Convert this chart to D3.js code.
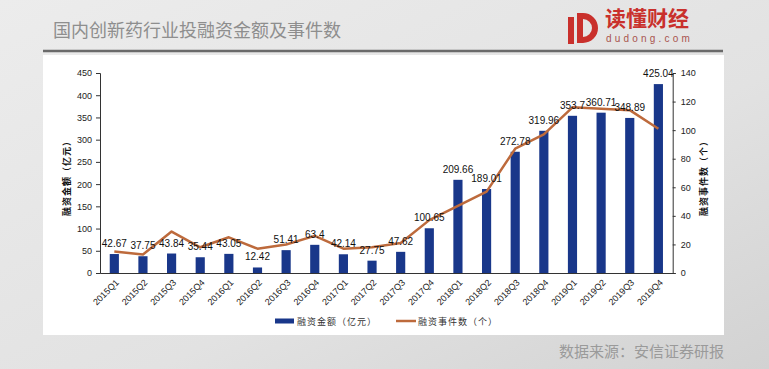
<!DOCTYPE html>
<html>
<head>
<meta charset="utf-8">
<script src="https://cdn.jsdelivr.net/npm/d3@7"></script>
<style>
  body { margin: 0; padding: 0; overflow: hidden; }
  text { font-family: "Liberation Sans", Arial, sans-serif; }
  .cjk { font-family: "Noto Sans CJK SC", sans-serif; }
</style>
</head>
<body>
<div id="chart"></div>
<script>
// data
var quarters = ["2015Q1", "2015Q2", "2015Q3", "2015Q4", "2016Q1", "2016Q2", "2016Q3", "2016Q4",
  "2017Q1", "2017Q2", "2017Q3", "2017Q4", "2018Q1", "2018Q2", "2018Q3", "2018Q4",
  "2019Q1", "2019Q2", "2019Q3", "2019Q4"];
var amounts = [42.67, 37.75, 43.84, 35.44, 43.05, 12.42, 51.41, 63.4, 42.14, 27.75, 47.62, 100.65,
  209.66, 189.01, 272.78, 319.96, 353.7, 360.71, 348.89, 425.04];
var events = [15, 13, 29, 18, 25, 17, 20, 26, 17, 18, 21, 37, 47, 57, 87, 97, 116, 115, 114, 101];
var leftTicks = [0, 50, 100, 150, 200, 250, 300, 350, 400, 450];
var rightTicks = [0, 20, 40, 60, 80, 100, 120, 140];

var barColor = "#19378a",
  lineColor = "#bd6a3c",
  red = "#c9302c";

var W = 769, H = 369;

var svg = d3.select("#chart")
  .append("svg")
  .attr("width", W)
  .attr("height", H);

// grey page background
var defs = svg.append("defs");
var grad = defs.append("linearGradient")
  .attr("id", "bg")
  .attr("x1", "0").attr("y1", "0")
  .attr("x2", "1").attr("y2", "1");
grad.append("stop").attr("offset", "0").attr("stop-color", "#ececec");
grad.append("stop").attr("offset", "0.6").attr("stop-color", "#e2e2e2");
grad.append("stop").attr("offset", "1").attr("stop-color", "#d2d2d2");
svg.append("rect")
  .attr("width", W)
  .attr("height", H)
  .attr("fill", "url(#bg)");

// title
svg.append("text")
  .attr("class", "cjk")
  .attr("x", 53)
  .attr("y", 37)
  .attr("font-size", 18)
  .attr("fill", "#8e8e8e")
  .text("国内创新药行业投融资金额及事件数");

// logo
svg.append("rect")
  .attr("x", 568).attr("y", 17)
  .attr("width", 6).attr("height", 27)
  .attr("fill", red);
svg.append("path")
  .attr("d", "M580,16 h3 a12,12 0 0 1 0,24 h-3 Z")
  .attr("fill", "none")
  .attr("stroke", red)
  .attr("stroke-width", 6);
svg.append("text")
  .attr("class", "cjk")
  .attr("x", 605)
  .attr("y", 26)
  .attr("font-size", 21)
  .attr("font-weight", "bold")
  .attr("fill", red)
  .text("读懂财经");
svg.append("text")
  .attr("x", 606)
  .attr("y", 42)
  .attr("font-size", 10)
  .attr("letter-spacing", 3.2)
  .attr("fill", "#a9544f")
  .text("dudong.com");

// rule under the title
svg.append("line")
  .attr("x1", 43).attr("x2", 723)
  .attr("y1", 51).attr("y2", 51)
  .attr("stroke", "#6a6a6a")
  .attr("stroke-width", 2.5);

// white panel
svg.append("rect")
  .attr("x", 43).attr("y", 55)
  .attr("width", 681).attr("height", 280)
  .attr("fill", "#ffffff");

// scales
var x = d3.scaleBand()
  .domain(quarters)
  .range([100, 672.7])
  .paddingInner(0.68)
  .paddingOuter(0.34);

var yL = d3.scaleLinear()
  .domain([0, 450])
  .range([273, 73]);

var yR = d3.scaleLinear()
  .domain([0, 140])
  .range([273, 73]);

// bars
svg.append("g")
  .selectAll("rect")
  .data(amounts)
  .enter()
  .append("rect")
  .attr("x", function (d, i) { return x(quarters[i]); })
  .attr("y", function (d) { return yL(d); })
  .attr("width", x.bandwidth())
  .attr("height", function (d) { return yL(0) - yL(d); })
  .attr("fill", barColor);

// line
svg.append("path")
  .datum(events)
  .attr("fill", "none")
  .attr("stroke", lineColor)
  .attr("stroke-width", 2.5)
  .attr("stroke-linejoin", "round")
  .attr("d", d3.line()
    .x(function (d, i) { return x(quarters[i]) + x.bandwidth() / 2; })
    .y(function (d) { return yR(d); })
  );

// bar value labels
svg.append("g")
  .selectAll("text")
  .data(amounts)
  .enter()
  .append("text")
  .attr("x", function (d, i) { return x(quarters[i]) + x.bandwidth() / 2; })
  .attr("y", function (d) { return yL(d) - 7; })
  .attr("text-anchor", "middle")
  .attr("font-size", 10)
  .attr("fill", "#111")
  .text(function (d) { return d; });

// left axis
var axL = svg.append("g")
  .attr("transform", "translate(100,0)")
  .call(d3.axisLeft(yL).tickValues(leftTicks).tickSize(4).tickSizeOuter(4).tickPadding(4));
axL.selectAll("text").attr("font-size", 9).attr("fill", "#222").attr("font-family", "Liberation Sans, Arial");
axL.selectAll("path, line").attr("stroke", "#333");

// right axis
var axR = svg.append("g")
  .attr("transform", "translate(672.7,0)")
  .call(d3.axisRight(yR).tickValues(rightTicks).tickSize(3).tickSizeOuter(3).tickPadding(5));
axR.selectAll("text").attr("font-size", 9).attr("fill", "#222").attr("font-family", "Liberation Sans, Arial");
axR.selectAll("path, line").attr("stroke", "#333");

// x axis
var axB = svg.append("g")
  .attr("transform", "translate(0,273)")
  .call(d3.axisBottom(x).tickSize(0).tickSizeOuter(0));
axB.select("path").attr("stroke", "#333");
axB.selectAll("text")
  .attr("font-size", 9)
  .attr("fill", "#222")
  .attr("font-family", "Liberation Sans, Arial")
  .attr("text-anchor", "end")
  .attr("dy", 0)
  .attr("transform", "translate(3,8) rotate(-45)");

// axis titles
svg.append("text")
  .attr("class", "cjk")
  .attr("transform", "translate(70,176) rotate(-90)")
  .attr("text-anchor", "middle")
  .attr("font-size", 9)
  .attr("font-weight", "bold")
  .attr("letter-spacing", 1)
  .attr("fill", "#111")
  .text("融资金额（亿元）");
svg.append("text")
  .attr("class", "cjk")
  .attr("transform", "translate(707,176) rotate(-90)")
  .attr("text-anchor", "middle")
  .attr("font-size", 9)
  .attr("font-weight", "bold")
  .attr("letter-spacing", 1)
  .attr("fill", "#111")
  .text("融资事件数（个）");

// legend
svg.append("rect")
  .attr("x", 275).attr("y", 318.5)
  .attr("width", 19).attr("height", 5)
  .attr("fill", barColor);
svg.append("text")
  .attr("class", "cjk")
  .attr("x", 297).attr("y", 324.5)
  .attr("font-size", 9)
  .attr("letter-spacing", 1)
  .attr("fill", "#333")
  .text("融资金额（亿元）");
svg.append("line")
  .attr("x1", 396).attr("x2", 416)
  .attr("y1", 321).attr("y2", 321)
  .attr("stroke", lineColor)
  .attr("stroke-width", 2.5);
svg.append("text")
  .attr("class", "cjk")
  .attr("x", 418).attr("y", 324.5)
  .attr("font-size", 9)
  .attr("letter-spacing", 1)
  .attr("fill", "#333")
  .text("融资事件数（个）");

// source
svg.append("text")
  .attr("class", "cjk")
  .attr("x", 724)
  .attr("y", 357)
  .attr("text-anchor", "end")
  .attr("font-size", 15)
  .attr("fill", "#9a9a9a")
  .text("数据来源：安信证券研报");
</script>
</body>
</html>
